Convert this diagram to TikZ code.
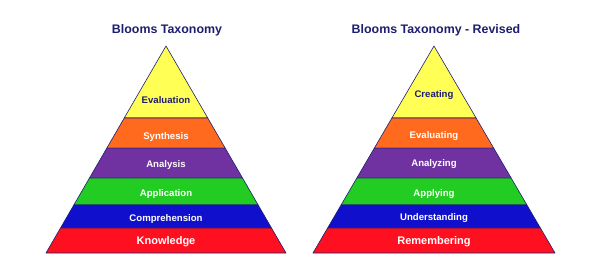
\documentclass[tikz,border=0pt]{standalone}
\usepackage{fontspec}
\setmainfont{Liberation Sans}
\usetikzlibrary{calc}
\definecolor{bloomnavy}{RGB}{30,30,110}
\definecolor{bloomyellow}{RGB}{255,255,85}
\definecolor{bloomorange}{RGB}{255,106,30}
\definecolor{bloompurple}{RGB}{112,50,160}
\definecolor{bloomgreen}{RGB}{34,204,34}
\definecolor{bloomblue}{RGB}{16,16,204}
\definecolor{bloomred}{RGB}{255,16,32}

\begin{document}
\begin{tikzpicture}[
    x=1pt,y=-1pt,
    title/.style={anchor=base,font=\bfseries\fontsize{12.4}{14}\selectfont,text=bloomnavy},
    band/.style={draw=bloomnavy,line width=0.6pt,line join=round},
    lbl/.style={anchor=base,inner sep=0pt,font=\bfseries\fontsize{9.6}{11}\selectfont,text=white},
    toplbl/.style={lbl,text=bloomnavy},
    baselbl/.style={lbl,font=\bfseries\fontsize{11}{13}\selectfont}
  ]
    \useasboundingbox (0,0) rectangle (600,277);

    % pyramid corners
    \coordinate (apexL) at (166,46);
    \coordinate (blL) at (46,253);
    \coordinate (brL) at (286,253);
    \coordinate (apexR) at (434,46);
    \coordinate (blR) at (313,253);
    \coordinate (brR) at (555,253);

    % bands, top to bottom
    \foreach \p in {L,R}{
      \foreach \ta/\tb/\col in {0/0.348/bloomyellow,0.348/0.493/bloomorange,0.493/0.638/bloompurple,0.638/0.768/bloomgreen,0.768/0.879/bloomblue,0.879/1/bloomred}{
        \filldraw[band,fill=\col] ($(apex\p)!\ta!(bl\p)$) -- ($(apex\p)!\tb!(bl\p)$)
          -- ($(apex\p)!\tb!(br\p)$) -- ($(apex\p)!\ta!(br\p)$) -- cycle;
      }
    }

    \node[title] (titleL) at (167,33) {Blooms Taxonomy};
    \node[title] (titleR) at (436,33) {Blooms Taxonomy - Revised};

    \node[toplbl] (evalL) at (166,103.5) {Evaluation};
    \node[lbl] (synthL) at (166,139) {Synthesis};
    \node[lbl] (analL) at (166,167) {Analysis};
    \node[lbl] (applL) at (166,196.5) {Application};
    \node[lbl] (compL) at (166,221) {Comprehension};
    \node[baselbl] (knowL) at (166,244) {Knowledge};

    \node[toplbl] (creaR) at (434,97) {Creating};
    \node[lbl] (evalR) at (434,138.5) {Evaluating};
    \node[lbl] (analR) at (434,166.5) {Analyzing};
    \node[lbl] (applR) at (434,196.5) {Applying};
    \node[lbl] (undR) at (434,220.5) {Understanding};
    \node[baselbl] (remR) at (434,244) {Remembering};
  \end{tikzpicture}
\end{document}
